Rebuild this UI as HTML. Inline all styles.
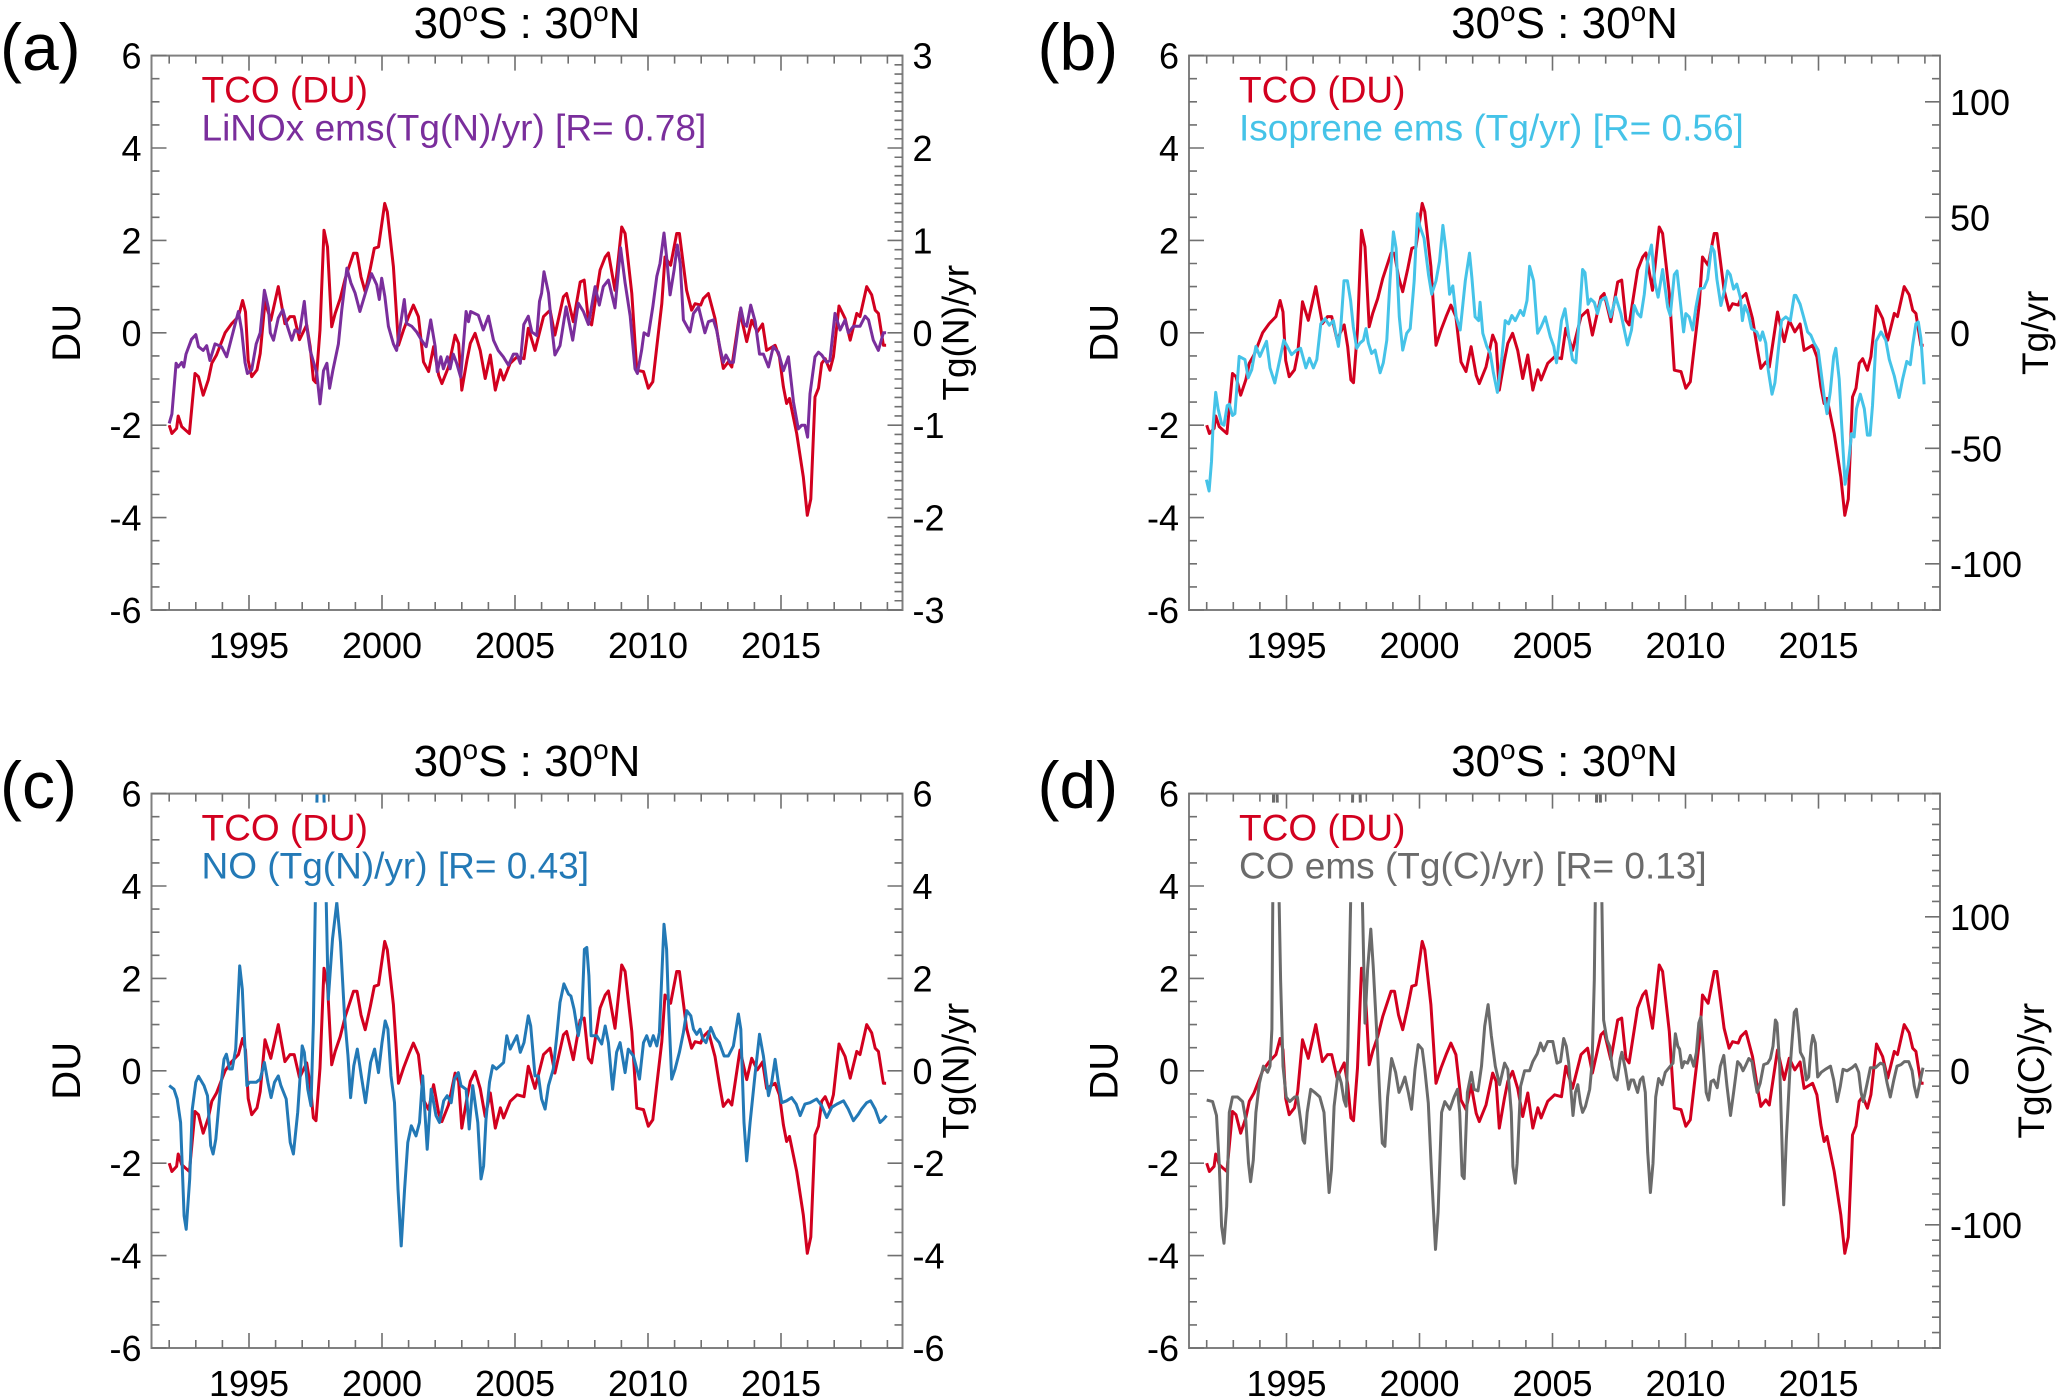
<!DOCTYPE html>
<html><head><meta charset="utf-8"><title>TCO vs emissions 30S-30N</title>
<style>
html,body{margin:0;padding:0;background:#fff;}
svg{display:block;font-family:"Liberation Sans",Arial,sans-serif;}
</style></head>
<body>
<svg id="fig" width="2067" height="1397" viewBox="0 0 2067 1397" xmlns="http://www.w3.org/2000/svg"></svg>
<script>
// ---------- data ----------
const tcoYear=[1992.0,1992.1,1992.28,1992.34,1992.47,1992.6,1992.76,1992.97,1993.1,1993.28,1993.47,1993.6,1993.78,1994.1,1994.35,1994.6,1994.76,1994.87,1994.97,1995.1,1995.3,1995.42,1995.6,1995.82,1996.1,1996.35,1996.54,1996.7,1996.9,1997.17,1997.3,1997.42,1997.52,1997.67,1997.82,1997.95,1998.11,1998.24,1998.43,1998.62,1998.93,1999.06,1999.21,1999.37,1999.56,1999.71,1999.87,2000.1,2000.2,2000.43,2000.62,2000.81,2001.0,2001.18,2001.37,2001.56,2001.75,2001.94,2002.13,2002.25,2002.5,2002.75,2002.88,2003.0,2003.19,2003.32,2003.5,2003.69,2003.88,2004.07,2004.26,2004.45,2004.57,2004.82,2005.08,2005.34,2005.5,2005.75,2006.07,2006.32,2006.5,2006.82,2006.94,2007.19,2007.45,2007.6,2007.76,2007.88,2008.2,2008.39,2008.51,2008.76,2009.01,2009.14,2009.39,2009.58,2009.83,2010.01,2010.18,2010.33,2010.52,2010.64,2010.85,2011.08,2011.18,2011.45,2011.64,2011.77,2011.98,2012.08,2012.27,2012.52,2012.71,2012.83,2013.02,2013.15,2013.46,2013.71,2013.9,2014.11,2014.31,2014.46,2014.78,2014.94,2015.09,2015.21,2015.32,2015.59,2015.84,2015.99,2016.12,2016.28,2016.41,2016.53,2016.66,2016.84,2016.97,2017.18,2017.41,2017.6,2017.85,2017.97,2018.22,2018.41,2018.54,2018.66,2018.85,2018.95];
const tcoVal=[-2.0,-2.18,-2.07,-1.8,-2.03,-2.1,-2.18,-0.88,-0.95,-1.35,-1.02,-0.66,-0.48,0,0.2,0.35,0.7,0.45,-0.6,-0.95,-0.8,-0.45,0.67,0.27,1.0,0.2,0.35,0.35,-0.15,0.17,-0.3,-1.02,-1.08,0.06,2.22,1.86,0.13,0.42,0.74,1.18,1.72,1.72,1.21,0.89,1.39,1.83,1.86,2.8,2.62,1.43,-0.27,0.06,0.35,0.6,0.35,-0.63,-0.84,-0.3,-0.92,-1.1,-0.74,-0.05,-0.23,-1.24,-0.6,-0.23,-0.01,-0.38,-0.99,-0.48,-1.24,-0.8,-1.02,-0.66,-0.52,-0.56,0.1,-0.38,0.35,0.49,-0.05,0.78,0.85,0.24,1.1,1.14,0.27,0.17,1.36,1.64,1.73,0.92,2.29,2.15,0.85,-0.81,-0.84,-1.2,-1.06,-0.3,0.63,1.64,1.46,2.15,2.15,0.92,0.49,0.63,0.6,0.74,0.85,0.31,-0.38,-0.77,-0.63,-0.74,0.45,-0.19,0.27,0.02,0.19,-0.38,-0.27,-0.52,-1.17,-1.53,-1.42,-2.18,-3.12,-3.95,-3.6,-1.39,-1.2,-0.66,-0.56,-0.81,-0.52,0.58,0.31,-0.16,0.42,0.35,1.0,0.82,0.49,0.42,-0.27,-0.27];

const linoxYear=[1992.0,1992.1,1992.26,1992.34,1992.47,1992.55,1992.63,1992.84,1993.0,1993.1,1993.28,1993.41,1993.53,1993.72,1993.97,1994.16,1994.35,1994.6,1994.72,1994.85,1994.94,1995.1,1995.27,1995.42,1995.58,1995.73,1995.8,1995.92,1996.1,1996.27,1996.42,1996.61,1996.73,1996.9,1997.08,1997.17,1997.3,1997.55,1997.67,1997.8,1997.93,1998.03,1998.15,1998.36,1998.49,1998.68,1998.83,1998.99,1999.17,1999.4,1999.61,1999.8,1999.9,1999.99,2000.11,2000.24,2000.43,2000.55,2000.7,2000.84,2000.93,2001.12,2001.3,2001.49,2001.66,2001.83,2002.0,2002.08,2002.21,2002.31,2002.46,2002.56,2002.68,2002.81,2002.96,2003.16,2003.25,2003.33,2003.62,2003.81,2004.0,2004.19,2004.37,2004.56,2004.75,2004.94,2005.07,2005.2,2005.33,2005.5,2005.63,2005.82,2005.92,2006.0,2006.09,2006.26,2006.38,2006.5,2006.69,2006.92,2007.17,2007.38,2007.57,2007.76,2008.01,2008.17,2008.32,2008.51,2008.76,2008.97,2009.14,2009.33,2009.51,2009.6,2009.76,2009.85,2010.01,2010.18,2010.33,2010.45,2010.6,2010.7,2010.83,2010.98,2011.1,2011.21,2011.33,2011.58,2011.71,2011.9,2012.02,2012.14,2012.27,2012.46,2012.58,2012.71,2012.83,2012.93,2013.08,2013.21,2013.49,2013.61,2013.71,2013.86,2014.03,2014.19,2014.34,2014.53,2014.71,2014.9,2015.09,2015.28,2015.47,2015.65,2015.78,2015.9,2016.0,2016.09,2016.28,2016.41,2016.53,2016.72,2016.84,2017.03,2017.22,2017.41,2017.53,2017.72,2017.97,2018.16,2018.29,2018.47,2018.66,2018.85,2018.95];
const linoxVal=[-0.98,-0.88,-0.33,-0.37,-0.32,-0.37,-0.23,-0.07,-0.02,-0.15,-0.19,-0.14,-0.3,-0.12,-0.15,-0.26,-0.05,0.23,0.03,-0.32,-0.44,-0.4,-0.12,0,0.46,0.27,0,-0.08,0.16,0.25,0.09,-0.08,0.03,0,0.34,0.07,-0.19,-0.44,-0.77,-0.41,-0.33,-0.6,-0.41,-0.12,0.25,0.7,0.54,0.43,0.23,0.45,0.64,0.52,0.36,0.59,0.39,0.07,-0.12,-0.19,0.1,0.36,0.1,0.07,0.01,-0.08,-0.15,0.14,-0.15,-0.42,-0.26,-0.39,-0.26,-0.39,-0.23,-0.33,-0.48,0.23,0.12,0.23,0.19,0.03,0.18,-0.08,-0.19,-0.26,-0.35,-0.23,-0.23,-0.33,0.09,0.18,0.01,-0.03,0.34,0.43,0.66,0.43,0.07,-0.24,-0.14,0.28,-0.08,0.32,0.23,0.09,0.5,0.3,0.5,0.57,0.27,0.92,0.54,0.18,-0.39,-0.44,-0.19,0,-0.03,0.28,0.61,0.75,1.08,0.82,0.41,0.68,0.95,0.75,0.14,0.01,0.21,0.28,0.14,0,0.12,0.14,0.03,-0.17,-0.32,-0.24,-0.32,-0.32,0.27,0.1,0.07,0.3,0.12,-0.23,-0.23,-0.37,-0.15,-0.21,-0.41,-0.26,-0.75,-1.04,-1.0,-1.0,-1.13,-0.66,-0.26,-0.21,-0.24,-0.32,-0.3,0.21,0.03,0.14,0,0.07,0.07,0.18,0.14,-0.08,-0.19,0,0];

const isoYear=[1991.99,1992.09,1992.18,1992.24,1992.34,1992.43,1992.56,1992.65,1992.77,1992.85,1992.97,1993.06,1993.22,1993.44,1993.56,1993.69,1993.85,1994.0,1994.13,1994.25,1994.38,1994.56,1994.75,1994.9,1995.03,1995.19,1995.38,1995.53,1995.73,1995.86,1996.01,1996.14,1996.29,1996.45,1996.61,1996.76,1996.95,1997.04,1997.16,1997.29,1997.41,1997.51,1997.64,1997.76,1997.89,1997.99,1998.08,1998.2,1998.33,1998.52,1998.64,1998.77,1998.89,1999.02,1999.12,1999.24,1999.37,1999.52,1999.65,1999.8,1999.92,2000.02,2000.17,2000.34,2000.46,2000.62,2000.75,2000.88,2001.0,2001.13,2001.25,2001.38,2001.53,2001.72,2001.88,2001.97,2002.09,2002.22,2002.28,2002.38,2002.53,2002.66,2002.78,2002.93,2003.1,2003.22,2003.35,2003.47,2003.6,2003.79,2003.91,2004.04,2004.14,2004.29,2004.44,2004.57,2004.73,2004.92,2005.05,2005.15,2005.34,2005.47,2005.63,2005.75,2005.88,2006.0,2006.13,2006.22,2006.34,2006.44,2006.57,2006.69,2006.82,2007.0,2007.19,2007.38,2007.57,2007.82,2007.97,2008.07,2008.2,2008.32,2008.45,2008.57,2008.72,2008.85,2008.97,2009.14,2009.33,2009.43,2009.58,2009.68,2009.8,2009.93,2010.01,2010.14,2010.27,2010.39,2010.52,2010.7,2010.83,2010.98,2011.08,2011.18,2011.33,2011.46,2011.58,2011.68,2011.81,2011.93,2012.06,2012.14,2012.23,2012.36,2012.48,2012.68,2012.81,2012.9,2013.02,2013.11,2013.25,2013.36,2013.49,2013.61,2013.77,2013.94,2014.09,2014.15,2014.31,2014.44,2014.59,2014.71,2014.84,2014.99,2015.11,2015.21,2015.32,2015.44,2015.57,2015.65,2015.78,2015.9,2016.0,2016.12,2016.24,2016.34,2016.43,2016.57,2016.72,2016.84,2016.94,2017.03,2017.16,2017.35,2017.53,2017.66,2017.85,2018.03,2018.16,2018.32,2018.45,2018.54,2018.66,2018.75,2018.85,2018.97];
const isoVal=[-63.6,-68.5,-55.7,-40,-25.8,-32.9,-39.4,-40,-31.5,-30.9,-35.8,-35,-10.2,-11.6,-19.5,-16,-5.9,-10.2,-6.7,-3.7,-15.2,-21.7,-11.6,-3.2,-5.9,-9.5,-7.5,-6.7,-15.2,-11,-15.2,-11.6,3.9,6.1,3.3,5.3,-5.9,2.6,22.5,22.5,14,2.6,-6.7,-4.5,-3.2,1.8,-4.5,-8.9,-7.5,-17.3,-13,-3.2,22.5,43.7,36.6,6.9,-7.5,-0.2,1.8,22.5,51.6,45.9,41,25.2,16.7,22.5,30.9,46.5,35.3,16.7,20.3,6.9,1.2,22.5,34.5,23.8,6.9,5.3,13.2,-0.2,-5.9,-8.9,-17.3,-25.8,-10.2,5.3,3.9,7.5,5.3,9.7,7.5,14,28.8,22.5,-0.2,2.6,6.9,-1.8,-5.9,-13,5.3,10.4,-3.2,-11.6,-13,5.3,27.4,26,12.4,14.6,13.2,8.3,14,15.4,6.9,15.4,8.3,-5.3,1.2,11.8,8.3,6.9,16.7,30.9,38,21.7,15.4,27.4,11,7.5,25.2,26.8,14,0.4,8.3,6.9,1.2,11,18.9,19.5,23.2,37.4,35.3,23.2,11.8,18.1,26.8,25.2,18.9,21.1,15.4,5.3,11.8,8.3,1.8,0.4,-3.2,0.4,-4.5,-16,-26.6,-21.7,-7.5,5.3,6.9,5.3,16.2,16.2,12.4,6.9,0.4,-1,-4.5,-7.5,-18.1,-27.4,-35,-25.8,-10.2,-6.7,-20.1,-45.7,-65.6,-57.1,-43.7,-45.1,-32.9,-26.6,-32.9,-44.3,-44.3,-31.5,-3.7,0.4,-3.2,-11.6,-18.7,-28,-20.1,-12.4,-13.8,-5.3,3.9,4.7,-2.4,-22.3];

const noYear=[1992.0,1992.18,1992.3,1992.43,1992.56,1992.64,1992.77,1992.87,1993.0,1993.1,1993.31,1993.44,1993.56,1993.65,1993.75,1993.9,1994.06,1994.15,1994.27,1994.37,1994.5,1994.65,1994.75,1994.83,1994.92,1995.02,1995.14,1995.27,1995.42,1995.58,1995.71,1995.83,1995.96,1996.1,1996.2,1996.4,1996.55,1996.67,1996.83,1997.0,1997.08,1997.21,1997.33,1997.42,1997.67,1997.98,1998.14,1998.3,1998.44,1998.59,1998.72,1998.82,1998.94,1999.07,1999.22,1999.38,1999.57,1999.72,1999.87,2000.0,2000.12,2000.22,2000.34,2000.47,2000.6,2000.72,2000.85,2000.97,2001.1,2001.28,2001.41,2001.53,2001.7,2001.85,2002.03,2002.16,2002.32,2002.45,2002.6,2002.72,2002.87,2002.97,2003.16,2003.28,2003.41,2003.6,2003.72,2003.82,2003.91,2004.04,2004.16,2004.3,2004.44,2004.57,2004.69,2004.82,2004.94,2005.07,2005.2,2005.34,2005.5,2005.59,2005.75,2005.88,2006.0,2006.13,2006.26,2006.44,2006.57,2006.69,2006.84,2007.01,2007.1,2007.22,2007.38,2007.51,2007.61,2007.7,2007.78,2007.86,2008.07,2008.26,2008.39,2008.51,2008.67,2008.82,2008.95,2009.14,2009.26,2009.45,2009.68,2009.83,2009.95,2010.08,2010.2,2010.33,2010.43,2010.52,2010.6,2010.7,2010.77,2010.89,2011.02,2011.18,2011.33,2011.46,2011.61,2011.71,2011.83,2011.96,2012.06,2012.18,2012.36,2012.52,2012.68,2012.86,2013.02,2013.21,2013.4,2013.49,2013.61,2013.71,2013.84,2014.02,2014.19,2014.34,2014.53,2014.65,2014.78,2014.9,2015.03,2015.21,2015.4,2015.57,2015.72,2015.9,2016.09,2016.34,2016.53,2016.72,2016.91,2017.1,2017.35,2017.53,2017.72,2017.91,2018.03,2018.22,2018.37,2018.54,2018.72,2018.85,2018.97];
const noVal=[-0.32,-0.4,-0.61,-1.12,-3.14,-3.43,-2.34,-0.83,-0.25,-0.12,-0.32,-0.54,-1.62,-1.8,-1.48,-0.54,0.25,0.36,0.04,0.04,0.47,2.27,1.77,0.69,-0.32,-0.25,-0.25,-0.25,-0.18,0.18,-0.25,-0.58,-0.25,-0.11,-0.32,-0.61,-1.55,-1.8,-0.9,0.54,0.4,-0.4,-0.76,1.05,10,1.55,2.85,3.64,2.78,1.19,0.32,-0.58,0.11,0.47,-0.11,-0.69,0.18,0.47,-0.04,0.61,1.08,0.9,-0.11,-0.69,-2.56,-3.79,-2.56,-1.55,-1.19,-1.41,-1.12,-0.11,-1.7,-0.4,-0.97,-1.12,-0.65,-0.54,-0.69,-0.18,-0.04,-0.32,-0.4,-1.26,-0.32,-1.12,-2.34,-2.06,-1.05,-0.25,0.11,0.04,0.11,0.18,0.76,0.47,0.61,0.76,0.4,0.61,1.19,0.97,-0.11,-0.11,-0.61,-0.83,-0.32,0.04,0.76,1.48,1.88,1.66,1.62,1.33,0.76,1.19,2.63,2.67,2.06,0.76,0.76,0.58,0.97,0.61,-0.4,0.4,0.61,-0.04,0.47,0.32,-0.18,0.61,0.76,0.54,0.76,0.54,0.83,2.06,3.17,2.63,1.41,-0.18,0.04,0.4,0.83,1.3,1.19,0.9,0.79,0.9,0.69,0.61,0.94,0.72,0.61,0.32,0.32,0.54,1.23,0.9,-1.12,-1.95,-1.12,-0.11,0.79,0.32,-0.54,-0.25,0.25,-0.25,-0.69,-0.65,-0.58,-0.72,-0.97,-0.72,-0.69,-0.61,-0.76,-1.01,-0.79,-0.72,-0.65,-0.83,-1.08,-0.94,-0.83,-0.69,-0.65,-0.83,-1.12,-1.05,-0.97];

const coYear=[1992.0,1992.22,1992.37,1992.47,1992.56,1992.65,1992.75,1992.85,1992.97,1993.16,1993.35,1993.47,1993.57,1993.65,1993.75,1993.85,1993.98,1994.13,1994.29,1994.38,1994.45,1994.55,1994.78,1994.87,1994.99,1995.12,1995.31,1995.41,1995.53,1995.62,1995.68,1995.78,1995.91,1996.06,1996.25,1996.41,1996.5,1996.6,1996.69,1996.79,1996.94,1997.06,1997.16,1997.24,1997.31,1997.62,1997.95,1998.05,1998.17,1998.26,1998.38,1998.51,1998.6,1998.7,1998.8,1998.95,1999.1,1999.23,1999.33,1999.45,1999.58,1999.7,1999.83,1999.95,2000.1,2000.2,2000.33,2000.45,2000.6,2000.7,2000.83,2000.95,2001.14,2001.3,2001.43,2001.51,2001.6,2001.68,2001.8,2001.95,2002.05,2002.2,2002.33,2002.45,2002.58,2002.7,2002.85,2003.01,2003.2,2003.32,2003.45,2003.51,2003.6,2003.67,2003.8,2003.95,2004.14,2004.26,2004.42,2004.55,2004.67,2004.82,2005.01,2005.17,2005.3,2005.42,2005.52,2005.61,2005.7,2005.77,2005.86,2005.95,2006.05,2006.13,2006.24,2006.4,2006.49,2006.57,2006.72,2006.92,2007.05,2007.15,2007.24,2007.33,2007.43,2007.55,2007.61,2007.74,2007.86,2007.95,2008.05,2008.2,2008.3,2008.4,2008.49,2008.58,2008.68,2008.78,2008.88,2008.99,2009.12,2009.24,2009.43,2009.53,2009.62,2009.71,2009.78,2009.87,2009.96,2010.08,2010.18,2010.31,2010.41,2010.5,2010.58,2010.68,2010.78,2010.87,2010.96,2011.06,2011.19,2011.31,2011.44,2011.56,2011.69,2011.81,2011.96,2012.06,2012.16,2012.25,2012.38,2012.5,2012.59,2012.69,2012.81,2012.94,2013.09,2013.19,2013.29,2013.38,2013.44,2013.54,2013.63,2013.69,2013.79,2013.92,2014.0,2014.09,2014.17,2014.26,2014.32,2014.44,2014.54,2014.63,2014.72,2014.79,2014.88,2014.97,2015.1,2015.26,2015.45,2015.57,2015.7,2015.82,2015.92,2016.07,2016.26,2016.39,2016.51,2016.6,2016.68,2016.83,2016.95,2017.14,2017.33,2017.45,2017.58,2017.7,2017.83,2017.95,2018.1,2018.23,2018.39,2018.52,2018.6,2018.7,2018.83,2018.93];
const coVal=[-19,-20,-29,-60,-101,-112,-88,-27,-17,-17,-20,-32,-60,-72,-58,-27,-8,3,-1,3,27,270,59,3,-17,-20,-17,-17,-32,-45,-47,-27,-12,-14,-17,-27,-53,-79,-64,-23,-1,-8,-19,-23,16,300,31,66,92,68,29,-19,-47,-49,-17,8,-1,-14,-10,-4,-14,-25,1,17,14,1,-21,-66,-116,-92,-27,-20,-25,-17,-12,-27,-68,-70,-14,-1,-12,-13,3,29,43,23,3,-9,5,1,-27,-62,-73,-60,-10,0,0,6,11,18,13,19,19,5,6,21,16,5,-14,-29,-14,-9,-21,-27,-23,-12,5,59,270,33,20,16,3,-4,-6,8,12,1,-12,-6,-6,-14,-6,-4,-14,-53,-79,-60,-17,-5,-9,-1,3,5,24,16,14,2,6,5,10,3,12,31,35,12,-14,-19,-7,-6,-11,3,10,-10,-29,-14,6,4,0,3,8,6,-4,-14,-8,4,5,8,16,33,31,3,-49,-87,-45,-1,18,38,40,25,12,8,-6,-4,16,23,18,-4,-1,1,3,-6,-20,-10,1,0,2,4,-1,-14,-20,-8,2,2,5,4,-8,-17,-6,3,4,6,6,0,-10,-17,-6,2];

// ---------- layout ----------
const svg=document.getElementById('fig');
const NS='http://www.w3.org/2000/svg';
const PL=151.5, PR=902.5, PT=55.6, PB=610;
const RED='#d2001f';
function mk(tag,attrs,parent){const e=document.createElementNS(NS,tag);for(const k in attrs)e.setAttribute(k,attrs[k]);(parent||svg).appendChild(e);return e;}

function drawPanel(cfg,idx){
  const ox=cfg.ox, oy=cfg.oy;
  const x0=PL+ox,x1=PR+ox,y0=PT+oy,y1=PB+oy;
  const g=mk('g',{});
  
  
  const xs=yr=>249+ox+(yr-1995)*26.6;
  const yDU=v=>y0+(6-v)/12*(y1-y0);
  const yR=v=>yDU(v*6/cfg.rmax);

  const lab=mk('text',{x:ox+0,y:oy+70,'font-size':66,fill:'#000'},g);
  lab.textContent='('+cfg.letter+')';
  
  
  const t=mk('text',{x:(x0+x1)/2,y:oy+38,'font-size':44,'text-anchor':'middle',fill:'#000'},g);
  
  
  t.innerHTML='30<tspan font-size="28" dy="-17">o</tspan><tspan dy="17">S : 30</tspan><tspan font-size="28" dy="-17">o</tspan><tspan dy="17">N</tspan>';

  const cp=mk('clipPath',{id:'clip'+idx},g);
  mk('rect',{x:x0,y:y0,width:x1-x0,height:y1-y0},cp);

  const line=(years,vals,yf,color,name)=>{
    let pts=years.map((yr,i)=>xs(yr).toFixed(1)+','+yf(vals[i]).toFixed(1)).join(' ');
    const p=mk('polyline',{points:pts,fill:'none',stroke:color,'stroke-width':3,'stroke-linejoin':'round','clip-path':'url(#clip'+idx+')'},g);
    
    
  };
  line(tcoYear,tcoVal,yDU,RED,'tco-line');
  line(cfg.years,cfg.vals,yR,cfg.color,cfg.seriesName);

  const m=mk('rect',{x:x0+1.5,y:y0+9,width:x1-x0-3,height:yDU(3.65)-(y0+9),fill:'#fff'},g);
  
  

  const fr=mk('rect',{x:x0,y:y0,width:x1-x0,height:y1-y0,fill:'none',stroke:'#808080','stroke-width':2},g);
  
  

  let d='';
  for(let v=-6;v<=6.001;v+=0.5){const y=yDU(v);const L=(Math.abs(v%2)<1e-6)?15:8;d+=`M${x0},${y}h${L}`;}
  for(let v=-cfg.rmax;v<=cfg.rmax+1e-6;v+=cfg.rminor){const r=Math.round(v/cfg.rminor)*cfg.rminor;const y=yR(r);const maj=Math.abs(r/cfg.rmajor-Math.round(r/cfg.rmajor))<1e-6;d+=`M${x1},${y}h${maj?-15:-8}`;}
  for(let yr=1992;yr<=2019;yr++){const x=xs(yr);const L=(yr%5===0)?15:8;d+=`M${x},${y1}v${-L}M${x},${y0}v${L}`;}
  const tk=mk('path',{d:d,stroke:'#707070','stroke-width':1.6,fill:'none'},g);
  
  

  for(let v=-6;v<=6;v+=2){
    const tl=mk('text',{x:x0-10,y:yDU(v)+13,'font-size':36,'text-anchor':'end',fill:'#000'},g);
    tl.textContent=String(v);
    
    
  }
  for(const v of cfg.rlabels){
    const tl=mk('text',{x:x1+10,y:yR(v)+13,'font-size':36,fill:'#000'},g);
    tl.textContent=String(v);
    
    
  }
  for(let yr=1995;yr<=2015;yr+=5){
    const tl=mk('text',{x:xs(yr),y:y1+48,'font-size':36,'text-anchor':'middle',fill:'#000'},g);
    tl.textContent=String(yr);
    
    
  }
  const yc=(y0+y1)/2;
  const lt=mk('text',{x:0,y:0,'font-size':40,'text-anchor':'middle',fill:'#000',transform:`translate(${ox+80},${yc}) rotate(-90)`},g);
  lt.textContent='DU';
  
  
  const rt=mk('text',{x:0,y:0,'font-size':37,'text-anchor':'middle',fill:'#000',transform:`translate(${x1+cfg.rtx+13},${yc}) rotate(-90)`},g);
  rt.textContent=cfg.rtitle;
  
  

  const l1=mk('text',{x:x0+50,y:y0+47,'font-size':37,fill:RED},g);
  l1.textContent='TCO (DU)';
  
  
  const l2=mk('text',{x:x0+50,y:y0+85,'font-size':37,fill:cfg.color},g);
  l2.textContent=cfg.legend;
  
  
}

const panels=[
 {letter:'a',ox:0,oy:0,years:linoxYear,vals:linoxVal,color:'#7a2e9c',seriesName:'linox-line',legend:'LiNOx ems(Tg(N)/yr) [R= 0.78]',rmax:3,rmajor:1,rminor:0.1,rlabels:[3,2,1,0,-1,-2,-3],rtitle:'Tg(N)/yr',rtx:53},
 {letter:'b',ox:1037.5,oy:0,years:isoYear,vals:isoVal,color:'#45c3e8',seriesName:'isoprene-line',legend:'Isoprene ems (Tg/yr) [R= 0.56]',rmax:120,rmajor:50,rminor:10,rlabels:[100,50,0,-50,-100],rtitle:'Tg/yr',rtx:95},
 {letter:'c',ox:0,oy:738,years:noYear,vals:noVal,color:'#2379b6',seriesName:'no-line',legend:'NO (Tg(N)/yr) [R= 0.43]',rmax:6,rmajor:2,rminor:0.5,rlabels:[6,4,2,0,-2,-4,-6],rtitle:'Tg(N)/yr',rtx:53},
 {letter:'d',ox:1037.5,oy:738,years:coYear,vals:coVal,color:'#6b6b6b',seriesName:'co-line',legend:'CO ems (Tg(C)/yr) [R= 0.13]',rmax:180,rmajor:100,rminor:10,rlabels:[100,0,-100],rtitle:'Tg(C)/yr',rtx:91}
];
panels.forEach((p,i)=>drawPanel(p,i));
</script>
</body></html>
